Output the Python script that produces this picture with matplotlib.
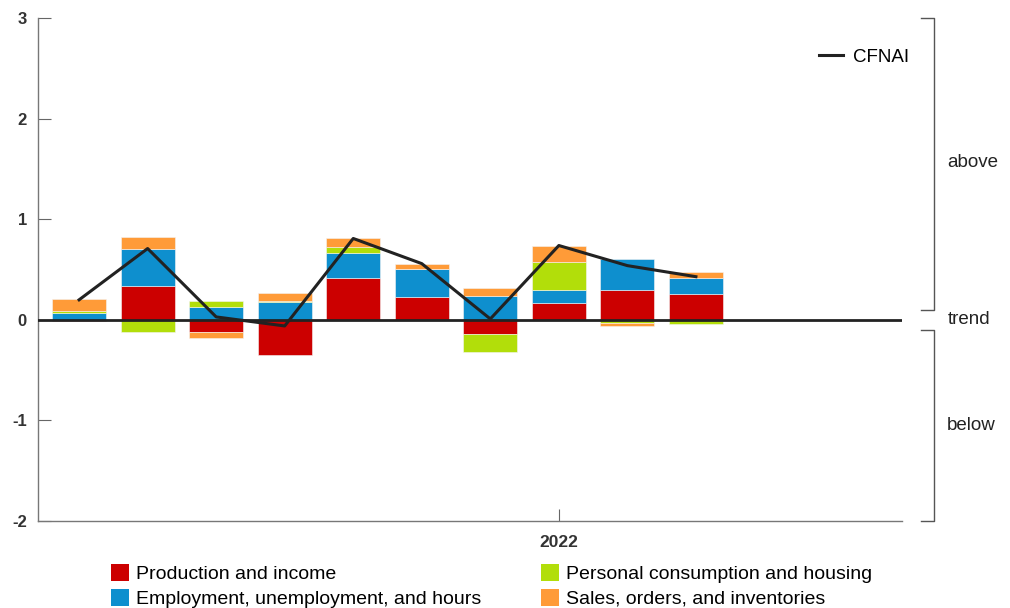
import numpy as np
import matplotlib.pyplot as plt
from matplotlib.patches import Patch

plt.rcParams['font.family'] = ['Liberation Sans', 'DejaVu Sans']

# Jun 2021 .. Mar 2022
months = ['2021-06', '2021-07', '2021-08', '2021-09', '2021-10',
          '2021-11', '2021-12', '2022-01', '2022-02', '2022-03']
production = [-0.015, 0.34, -0.12, -0.35, 0.42, 0.225, -0.135, 0.165, 0.30, 0.26]
employment = [0.07, 0.37, 0.125, 0.18, 0.25, 0.28, 0.24, 0.13, 0.31, 0.155]
consumption = [0.02, -0.12, 0.065, 0.01, 0.06, 0.0, -0.18, 0.28, -0.03, -0.045]
sales = [0.12, 0.11, -0.055, 0.08, 0.08, 0.055, 0.08, 0.16, -0.035, 0.06]
cfnai = [0.20, 0.71, 0.03, -0.06, 0.81, 0.56, 0.01, 0.74, 0.54, 0.43]

labels = ['Production and income', 'Employment, unemployment, and hours',
          'Personal consumption and housing', 'Sales, orders, and inventories']
colors = ['#cc0000', '#0e8fce', '#b2de0a', '#ff9b38']

x = np.arange(len(months))
series = [production, employment, consumption, sales]

fig = plt.figure(figsize=(10.1, 6.08), dpi=100)
ax = fig.add_axes([0.0376, 0.143, 0.855, 0.827])

pos_base = np.zeros(len(x))
neg_base = np.zeros(len(x))
for vals, c in zip(series, colors):
    v = np.array(vals)
    base = np.where(v >= 0, pos_base, neg_base)
    ax.bar(x, v, width=0.79, bottom=base, color=c, edgecolor='#f4f4f4',
           linewidth=0.4)
    pos_base += np.where(v >= 0, v, 0)
    neg_base += np.where(v < 0, v, 0)

ax.axhline(0, color='#222222', lw=2, zorder=3)
ax.plot(x, cfnai, color='#222222', lw=2.2, zorder=4, label='CFNAI')

ax.set_xlim(-0.6, 12.0)
ax.set_ylim(-2, 3)
ax.set_yticks([-2, -1, 0, 1, 2, 3])
ax.set_yticklabels(['-2', '-1', '0', '1', '2', '3'], fontweight='bold',
                   fontsize=12, color='#333333')
ax.set_xticks([7])
ax.set_xticklabels(['2022'], fontweight='bold', fontsize=12.5, color='#333333')
ax.tick_params(axis='y', direction='in', length=9, color='#666666', pad=8)
ax.tick_params(axis='x', direction='in', length=9, color='#666666', pad=10)

for s in ['top', 'right']:
    ax.spines[s].set_visible(False)
for s in ['left', 'bottom']:
    ax.spines[s].set_color('#777777')
    ax.spines[s].set_linewidth(1)

ax.legend(loc='upper right', bbox_to_anchor=(1.028, 0.973), frameon=False,
          fontsize=13.5, handlelength=1.3, handletextpad=0.5)

# brackets on the right
tr = ax.get_yaxis_transform()
for y0, y1 in [(3, 0.1), (-0.1, -2)]:
    ax.plot([1.023, 1.038, 1.038, 1.023], [y0, y0, y1, y1], color='#555555',
            lw=1, transform=tr, clip_on=False)
for yy, txt in [(1.57, 'above'), (0.0, 'trend'), (-1.05, 'below')]:
    ax.text(1.053, yy, txt, transform=tr, fontsize=13.5, va='center',
            color='#222222')

handles = [Patch(facecolor=c, label=l) for c, l in zip(colors, labels)]
fig.legend(handles=handles, ncol=2, loc='upper left',
           bbox_to_anchor=(0.1, 0.088), frameon=False, fontsize=14,
           handlelength=0.93, handleheight=0.93, handletextpad=0.36,
           columnspacing=3.1, labelspacing=0.3, borderpad=0)

fig.savefig('out.png', dpi=100)
